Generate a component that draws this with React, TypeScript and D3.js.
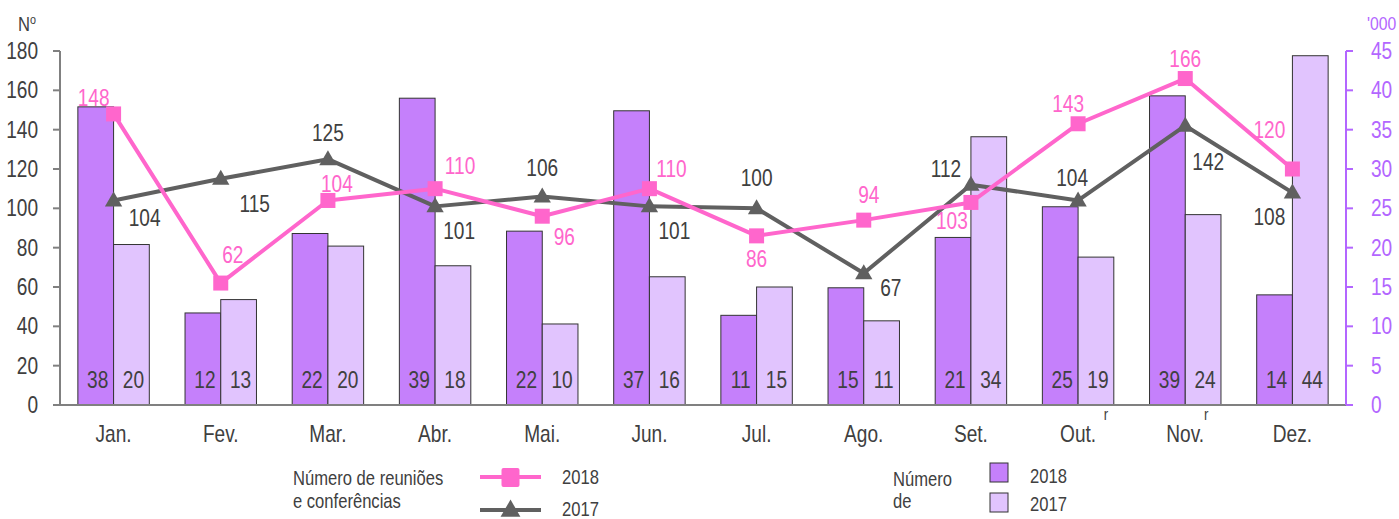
import React from "react";
import * as d3 from "d3";

const months = ["Jan.", "Fev.", "Mar.", "Abr.", "Mai.", "Jun.", "Jul.", "Ago.", "Set.", "Out.", "Nov.", "Dez."];
const monthMarks = ["", "", "", "", "", "", "", "", "", "r", "r", ""];
const bars2018 = [37.9, 11.7, 21.8, 39.0, 22.1, 37.4, 11.4, 14.9, 21.3, 25.2, 39.3, 14.0];
const bars2017 = [20.4, 13.4, 20.2, 17.7, 10.3, 16.3, 15.0, 10.7, 34.1, 18.8, 24.2, 44.4];
const line2018 = [148, 62, 104, 110, 96, 110, 86, 94, 103, 143, 166, 120];
const line2017 = [104, 115, 125, 101, 106, 101, 100, 67, 112, 104, 142, 108];
const leftTicks = [0, 20, 40, 60, 80, 100, 120, 140, 160, 180];
const rightTicks = [0, 5, 10, 15, 20, 25, 30, 35, 40, 45];

// label placement offsets (dx, dy) relative to each point
const pinkOffsets = [[-20, -8], [12, -20], [9, -8], [25, -15], [22, 29], [22, -12], [0, 31], [5, -17], [-19, 27], [-10, -12], [0, -12], [-23, -31]];
const grayOffsets = [[31, 26], [34, 33], [0, -18], [24, 33], [0, -21], [25, 33], [0, -22], [27, 23], [-25, -8], [-6, -14], [23, 44], [-23, 32]];
const markOffsets = [0, 0, 0, 0, 0, 0, 0, 0, 0, 28, 21, 0];

const FONT = "'Liberation Sans', Arial, sans-serif";
const SX = 0.83;
const TXT = "#404040";
const PINK = "#ff66cc";
const GRAY = "#606060";
const PURPLE = "#b366ff";
const C2018 = "#c580fb";
const C2017 = "#e1c4fe";

function T(props: { x: number; y: number; size: number; fill: string; anchor?: string; children: React.ReactNode }) {
  const { x, y, size, fill, anchor, children } = props;
  return (
    <text transform={`translate(${x},${y}) scale(${SX},1)`} fontSize={size} fill={fill} textAnchor={anchor || "start"}>
      {children}
    </text>
  );
}

export default function App() {
  const W = 1399, H = 519;
  const x0 = 60, x1 = 1346, yTop = 51, yBot = 405;
  const x = d3.scaleBand<string>().domain(months).range([x0, x1]).paddingInner(0).paddingOuter(0);
  const xs = d3.scaleBand<string>().domain(["2018", "2017"]).range([0, x.bandwidth()]).paddingInner(0).paddingOuter(0.5);
  const yL = d3.scaleLinear().domain([0, 180]).range([yBot, yTop]);
  const yR = d3.scaleLinear().domain([0, 45]).range([yBot, yTop]);
  const cx = (m: string) => (x(m) as number) + x.bandwidth() / 2;

  const lineGen = d3.line<number>().x((_, i) => cx(months[i])).y((d) => yL(d));
  const tri = d3.symbol().type(d3.symbolTriangle).size(130)();

  return (
    <svg width={W} height={H} style={{ display: "block", position: "absolute", left: 0, top: 0 }} fontFamily={FONT}>
      {/* bars */}
      {months.map((m, i) => (
        <g key={m}>
          <rect x={(x(m) as number) + (xs("2018") as number)} y={yR(bars2018[i])} width={xs.bandwidth()} height={yBot - yR(bars2018[i])} fill={C2018} stroke="#333" strokeWidth={1} />
          <rect x={(x(m) as number) + (xs("2017") as number)} y={yR(bars2017[i])} width={xs.bandwidth()} height={yBot - yR(bars2017[i])} fill={C2017} stroke="#333" strokeWidth={1} />
          <T x={(x(m) as number) + (xs("2018") as number) + xs.bandwidth() / 2 + 2} y={388} anchor="middle" size={23} fill={TXT}>{Math.round(bars2018[i])}</T>
          <T x={(x(m) as number) + (xs("2017") as number) + xs.bandwidth() / 2 + 2} y={388} anchor="middle" size={23} fill={TXT}>{Math.round(bars2017[i])}</T>
        </g>
      ))}

      {/* bottom axis */}
      <line x1={x0} x2={x1} y1={yBot} y2={yBot} stroke="#808080" strokeWidth={2} />
      {months.map((m, i) => (
        <g key={"xl" + m}>
          <T x={cx(m)} y={442} anchor="middle" size={23} fill={TXT}>{m}</T>
          {monthMarks[i] && (
            <T x={cx(m) + markOffsets[i]} y={420} anchor="middle" size={16} fill={TXT}>{monthMarks[i]}</T>
          )}
        </g>
      ))}

      {/* left axis */}
      <line x1={x0} x2={x0} y1={yTop} y2={yBot} stroke="#808080" strokeWidth={2} />
      {leftTicks.map((t) => (
        <g key={"lt" + t}>
          <line x1={x0 - 7} x2={x0} y1={yL(t)} y2={yL(t)} stroke="#808080" strokeWidth={2} />
          <T x={38} y={yL(t) + 8} anchor="end" size={23} fill={TXT}>{t}</T>
        </g>
      ))}
      <T x={18} y={31} size={20} fill={TXT}>N<tspan fontSize={13} dy={-7}>o</tspan></T>

      {/* right axis */}
      <line x1={x1} x2={x1} y1={yTop} y2={yBot} stroke={PURPLE} strokeWidth={2} />
      {rightTicks.map((t) => (
        <g key={"rt" + t}>
          <line x1={x1} x2={x1 + 7} y1={yR(t)} y2={yR(t)} stroke={PURPLE} strokeWidth={2} />
          <T x={1371} y={yR(t) + 8} size={23} fill={PURPLE}>{t}</T>
        </g>
      ))}
      <T x={1367} y={30} size={19} fill={PURPLE}>'000</T>

      {/* lines */}
      <path d={lineGen(line2017) || ""} fill="none" stroke={GRAY} strokeWidth={4} strokeLinejoin="round" />
      <path d={lineGen(line2018) || ""} fill="none" stroke={PINK} strokeWidth={4} strokeLinejoin="round" />
      {line2017.map((v, i) => (
        <path key={"tri" + i} d={tri || ""} transform={`translate(${cx(months[i])},${yL(v) + 1})`} fill={GRAY} />
      ))}
      {line2018.map((v, i) => (
        <rect key={"sq" + i} x={cx(months[i]) - 7.5} y={yL(v) - 7.5} width={15} height={15} fill={PINK} />
      ))}
      {line2017.map((v, i) => (
        <T key={"gl" + i} x={cx(months[i]) + grayOffsets[i][0]} y={yL(v) + grayOffsets[i][1]} anchor="middle" size={23} fill={TXT}>{v}</T>
      ))}
      {line2018.map((v, i) => (
        <T key={"pl" + i} x={cx(months[i]) + pinkOffsets[i][0]} y={yL(v) + pinkOffsets[i][1]} anchor="middle" size={23} fill={PINK}>{v}</T>
      ))}

      {/* legend: lines */}
      <T x={293} y={485} size={20} fill={TXT}>Número de reuniões</T>
      <T x={293} y={508} size={20} fill={TXT}>e conferências</T>
      <line x1={480} x2={541} y1={477} y2={477} stroke={PINK} strokeWidth={4} />
      <rect x={501.5} y={468} width={18} height={19} rx={2} fill={PINK} />
      <T x={562} y={484} size={20} fill={TXT}>2018</T>
      <line x1={480} x2={541} y1={510} y2={510} stroke={GRAY} strokeWidth={4} />
      <path d={d3.symbol().type(d3.symbolTriangle).size(170)() || ""} transform={`translate(510.5,511)`} fill={GRAY} />
      <T x={562} y={516} size={20} fill={TXT}>2017</T>

      {/* legend: bars */}
      <T x={893} y={486} size={20} fill={TXT}>Número</T>
      <T x={893} y={508} size={20} fill={TXT}>de</T>
      <rect x={990} y={463} width={18} height={19} fill={C2018} stroke="#333" strokeWidth={1} />
      <rect x={990} y={493} width={18} height={19} fill={C2017} stroke="#333" strokeWidth={1} />
      <T x={1030} y={483} size={20} fill={TXT}>2018</T>
      <T x={1030} y={511} size={20} fill={TXT}>2017</T>
    </svg>
  );
}
